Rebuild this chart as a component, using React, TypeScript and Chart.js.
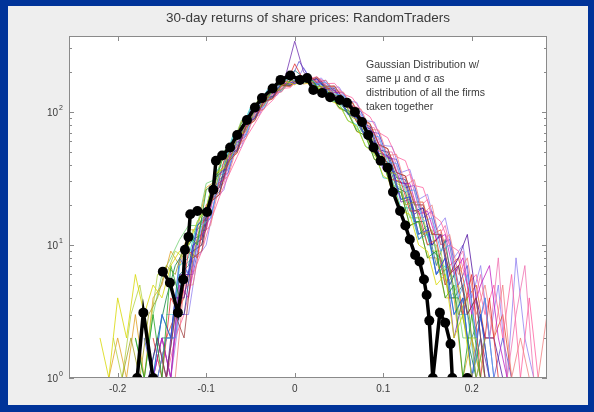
import React, { useEffect, useRef } from "react";
import { Chart, registerables } from "chart.js";
Chart.register(...registerables);

// bin centres (two interleaved bin grids)
const binsA = [
  -0.24, -0.23, -0.22, -0.21, -0.2, -0.19, -0.18, -0.17, -0.16, -0.15,
  -0.14, -0.13, -0.12, -0.11, -0.1, -0.09, -0.08, -0.07, -0.06, -0.05,
  -0.04, -0.03, -0.02, -0.01, 0, 0.01, 0.02, 0.03, 0.04, 0.05,
  0.06, 0.07, 0.08, 0.09, 0.1, 0.11, 0.12, 0.13, 0.14, 0.15,
  0.16, 0.17, 0.18, 0.19, 0.2, 0.21, 0.22, 0.23, 0.24, 0.25,
  0.26, 0.27, 0.28,
];
const binsB = [
  -0.235, -0.225, -0.215, -0.205, -0.195, -0.185, -0.175, -0.165, -0.155, -0.145,
  -0.135, -0.125, -0.115, -0.105, -0.095, -0.085, -0.075, -0.065, -0.055, -0.045,
  -0.035, -0.025, -0.015, -0.005, 0.005, 0.015, 0.025, 0.035, 0.045, 0.055,
  0.065, 0.075, 0.085, 0.095, 0.105, 0.115, 0.125, 0.135, 0.145, 0.155,
  0.165, 0.175, 0.185, 0.195, 0.205, 0.215, 0.225, 0.235, 0.245, 0.255,
  0.265, 0.275, 0.285,
];

// firm histograms on grid A
const a01 = [0,0,2,1,4,2,6,3,5,4, 7,9,10,15,19,34,38,58,68,97, 108,139,144,170,160,175,152,150,121,114, 86,78,55,49,33,30,18,17,10,9, 5,6,2,3,1,0,0,0,0,0, 0,0,0];
const a02 = [0,0,0,0,1,0,2,1,3,1, 7,4,12,10,26,29,48,55,83,92, 126,131,160,158,186,170,172,141,138,108, 99,72,66,44,41,26,25,14,15,8, 9,4,5,1,3,1,0,0,0,0, 0,0,0];
const a03 = [0,0,0,0,0,1,0,2,1,3, 2,8,6,14,17,32,37,60,70,101, 110,141,146,171,163,180,160,162,133,127, 96,90,64,59,39,37,22,23,12,13, 6,8,3,4,1,3,1,0,0,0, 0,0,0];
const a04 = [0,0,0,0,0,0,1,0,2,1, 4,3,9,8,20,23,43,49,79,88, 121,129,162,160,230,172,180,152,150,119, 113,84,77,53,49,31,30,18,18,10, 11,5,7,3,6,1,4,1,0,0, 0,0,0];
const a05 = [0,0,0,0,0,0,0,1,1,2, 1,5,4,11,13,28,31,56,63,95, 103,137,141,170,163,183,164,170,141,139, 108,103,74,70,47,45,29,29,17,18, 11,12,6,8,3,5,7,2,1,0, 0,0,0];
const a06 = [0,0,0,0,0,0,0,0,1,3, 2,7,8,15,19,35,41,66,75,108, 117,149,150,178,168,179,153,154,121,117, 86,80,55,51,32,31,19,19,11,12, 6,7,3,4,1,2,0,0,0,0, 0,0,0];
const a07 = [0,0,0,0,0,0,0,0,1,2, 1,6,6,13,16,32,36,61,69,101, 110,146,152,190,340,200,166,165,132,129, 96,91,63,59,37,37,21,22,11,13, 6,8,2,4,1,2,1,0,0,0, 0,0,0];
const a08 = [0,0,0,0,0,0,0,0,1,2, 1,4,5,10,13,26,29,52,58,91, 98,133,136,167,162,186,167,176,145,146, 112,109,78,76,50,50,31,34,19,22, 11,14,7,9,3,6,2,8,1,3, 7,1,0];
const a09 = [0,0,0,0,0,0,0,1,0,2, 2,6,7,14,16,33,39,63,70,104, 111,143,144,172,205,182,162,167,135,132, 98,94,65,61,39,38,22,23,12,14, 7,11,4,5,2,3,1,0,0,0, 0,0,0];
const a10 = [0,0,0,1,2,1,3,1,4,5, 9,7,13,13,27,30,49,56,85,93, 128,132,162,158,181,162,167,139,135,106, 100,71,67,44,42,25,25,14,15,8, 8,4,4,1,2,1,0,0,0,0, 0,0,0];
const a11 = [0,0,0,0,0,0,2,1,3,6, 8,11,14,14,29,31,51,58,87,95, 129,134,163,160,182,165,170,142,139,108, 102,74,69,47,44,28,27,16,16,10, 10,5,6,2,2,1,0,0,0,0, 0,0,0];
const a12 = [0,0,0,0,0,0,0,0,0,1, 1,3,3,8,10,22,26,48,55,88, 95,130,133,164,160,215,168,180,152,154, 121,118,86,84,56,55,35,37,22,24, 13,16,8,10,4,7,2,5,1,8, 2,1,0];

// firm histograms on grid B
const b01 = [0,0,0,0,0,0,0,0,2,1, 3,2,8,9,21,24,42,50,77,87, 119,126,158,157,182,170,183,156,157,125, 119,89,82,57,53,35,33,20,20,12, 12,6,7,3,4,1,1,1,0,0, 0,0,0];
const b02 = [0,0,1,0,1,2,1,3,4,7, 6,10,8,16,20,35,40,64,72,104, 112,145,146,174,165,177,155,156,126,121, 91,84,58,55,36,34,20,21,12,13, 6,7,3,4,1,2,0,0,0,0, 0,0,0];
const b03 = [0,0,0,0,0,0,0,0,1,2, 2,6,7,14,16,33,37,62,68,104, 109,143,145,174,167,185,163,168,136,134, 101,96,67,65,42,41,25,26,15,16, 9,10,4,6,2,4,1,1,0,0, 0,0,0];
const b04 = [0,0,0,0,0,0,1,1,2,1, 4,4,10,11,24,27,47,52,82,90, 126,130,164,162,187,168,177,147,146,113, 109,78,75,49,47,30,29,17,19,10, 12,6,8,12,4,2,2,1,0,0, 0,0,0];
const b05 = [0,0,0,0,0,0,0,0,0,1, 1,5,5,12,14,29,33,56,63,98, 104,138,141,170,165,185,166,173,143,141, 110,105,74,73,47,48,28,31,17,20, 10,12,6,8,3,5,2,5,1,2, 1,1,3];
const b06 = [0,0,0,0,0,0,0,0,1,1, 3,3,9,10,22,25,44,51,79,89, 121,128,159,158,183,169,178,151,150,117, 112,82,78,52,50,32,31,18,19,10, 12,5,7,3,4,1,1,0,0,0, 0,0,0];
const b07 = [0,1,0,2,1,3,5,2,6,6, 9,8,13,11,25,27,45,52,80,89, 122,128,160,157,180,166,170,143,141,111, 104,76,70,48,45,29,27,16,16,9, 9,4,5,2,2,1,0,0,0,0, 0,0,0];
const b08 = [0,0,0,0,0,0,0,0,0,1, 2,3,6,9,15,23,33,46,64,82, 106,122,150,152,178,176,184,163,164,136, 128,102,92,70,64,46,43,28,27,17, 15,10,9,5,6,3,5,2,6,1, 4,1,0];
const b09 = [0,0,0,0,0,0,0,1,2,4, 7,9,11,12,26,28,48,55,84,93, 126,131,162,159,176,166,165,140,134,108, 98,73,66,45,42,27,25,15,15,9, 8,4,4,2,1,1,0,0,0,0, 0,0,0];
const b10 = [0,0,0,0,0,0,0,0,1,2, 2,6,6,13,16,31,35,59,66,99, 105,139,142,172,240,188,168,173,141,139, 106,100,71,69,45,44,27,28,16,18, 10,11,5,7,2,4,1,2,1,0, 0,0,0];
const b11 = [0,0,0,0,0,0,0,1,1,2, 3,4,9,10,21,24,43,49,77,86, 118,125,157,155,180,168,180,154,155,123, 117,88,81,56,53,35,33,21,21,12, 13,7,8,4,5,2,2,3,1,0, 0,0,0];
const b12 = [0,0,0,0,0,0,0,1,0,3, 3,7,8,15,19,34,40,64,73,105, 114,146,148,176,168,183,158,160,128,124, 93,87,60,56,37,35,21,21,12,12, 6,7,3,3,1,2,0,0,0,0, 0,0,0];

const firmsA = [a01, a02, a03, a04, a05, a06, a07, a08, a09, a10, a11, a12];
const firmsB = [b01, b02, b03, b04, b05, b06, b07, b08, b09, b10, b11, b12];
const colorsA = ["#d8d800", "#20a020", "#3050e0", "#e03030", "#c020c0", "#20c0c0", "#7030b0", "#f070b0", "#208080", "#e0a020", "#70d070", "#9080f0"];
const colorsB = ["#a04040", "#a0a020", "#50a0f0", "#5010a0", "#f08080", "#203090", "#b0d040", "#ff60a0", "#108040", "#6050d0", "#e05020", "#60d0e0"];

// Gaussian reference curve (black, with markers)
const gaussX = [
  -0.178, -0.171, -0.16, -0.155,
  -0.149, -0.141, -0.132, -0.126, -0.124, -0.12, -0.118, -0.11, -0.099, -0.092,
  -0.089, -0.082, -0.073, -0.065, -0.054, -0.045, -0.037, -0.025, -0.016, -0.005,
  0.006, 0.014, 0.021, 0.031, 0.04, 0.051, 0.059, 0.068, 0.076, 0.083,
  0.089, 0.097, 0.105, 0.111, 0.119, 0.125, 0.13, 0.136, 0.141, 0.146,
  0.149, 0.152, 0.156, 0.164, 0.17, 0.176, 0.178, 0.187, 0.195,
];
const gaussY = [
  1, 3.1, 1, null,
  6.3, 5.2, 3.1, 5.5, 9.2, 11.5, 17, 18, 17.7, 26,
  43, 47, 54, 67, 87, 108, 127, 150, 174, 188,
  174, 180, 146, 139, 129, 123, 117, 100, 84, 67,
  54, 43, 38, 25, 18, 14, 11, 8.4, 7.5, 5.5,
  4.2, 2.7, 1, 3.1, 2.6, 1.8, 1, null, 1,
];

const xTicks = [-0.2, -0.1, 0, 0.1, 0.2];
const xTickLabels = ["-0.2", "-0.1", "0", "0.1", "0.2"];
const yTicks = [1, 10, 100];
const yTickExps = ["0", "1", "2"];
const titleText = "30-day returns of share prices: RandomTraders";
const noteLines = [
  "Gaussian Distribution w/",
  "same \u03bc and \u03c3 as",
  "distribution of all the firms",
  "taken together",
];

const FONT = '"Liberation Sans", Arial, sans-serif';

const framePlugin = {
  id: "frame",
  beforeDraw(chart: any) {
    const { ctx, chartArea: a, width, height } = chart;
    ctx.save();
    ctx.fillStyle = "#003399";
    ctx.fillRect(0, 0, width, height);
    ctx.fillStyle = "#eeeeee";
    ctx.fillRect(8, 6, 580, 399);
    ctx.fillStyle = "#ffffff";
    ctx.fillRect(a.left, a.top, a.right - a.left, a.bottom - a.top);
    ctx.restore();
  },
  afterDraw(chart: any) {
    const { ctx, chartArea: a, scales } = chart;
    const xs = scales.x;
    const ys = scales.y;
    ctx.save();
    ctx.strokeStyle = "#8a8a8a";
    ctx.lineWidth = 1;
    ctx.strokeRect(a.left + 0.5, a.top + 0.5, a.right - a.left - 1, a.bottom - a.top - 1);
    ctx.beginPath();
    xTicks.forEach((v) => {
      const px = Math.round(xs.getPixelForValue(v)) + 0.5;
      ctx.moveTo(px, a.bottom);
      ctx.lineTo(px, a.bottom - 5);
      ctx.moveTo(px, a.top);
      ctx.lineTo(px, a.top + 5);
    });
    for (let d = 0; d < 3; d++) {
      for (let m = 1; m < 10; m++) {
        const v = m * Math.pow(10, d);
        if (v > ys.max) break;
        const py = Math.round(ys.getPixelForValue(v)) + 0.5;
        const len = m === 1 ? 5 : 3;
        ctx.moveTo(a.left, py);
        ctx.lineTo(a.left + len, py);
        ctx.moveTo(a.right, py);
        ctx.lineTo(a.right - len, py);
      }
    }
    ctx.stroke();

    ctx.fillStyle = "#3a3a3a";
    ctx.font = "10px " + FONT;
    ctx.textAlign = "center";
    ctx.textBaseline = "middle";
    xTicks.forEach((v, i) => {
      ctx.fillText(xTickLabels[i], xs.getPixelForValue(v), a.bottom + 11);
    });
    yTicks.forEach((v, i) => {
      const py = ys.getPixelForValue(v);
      ctx.font = "10px " + FONT;
      ctx.textAlign = "right";
      ctx.fillText("10", a.left - 11, py + 1);
      ctx.font = "7px " + FONT;
      ctx.textAlign = "left";
      ctx.fillText(yTickExps[i], a.left - 10, py - 4);
    });

    ctx.font = "13.5px " + FONT;
    ctx.textAlign = "center";
    ctx.fillText(titleText, (a.left + a.right) / 2, 18);

    ctx.font = "10.5px " + FONT;
    ctx.textAlign = "left";
    noteLines.forEach((t, i) => {
      ctx.fillText(t, 366, 65 + i * 14);
    });
    ctx.restore();
  },
};

export default function App() {
  const ref = useRef<HTMLCanvasElement>(null);
  useEffect(() => {
    document.body.style.margin = "0";
    const mk = (grid: number[], arr: number[], color: string, order: number, label: string) => ({
      label,
      data: grid.map((x, i) => ({ x, y: arr[i] > 0 ? arr[i] : null })),
      borderColor: color + "c8",
      borderWidth: 1,
      pointRadius: 0,
      tension: 0,
      order,
    });
    const firmSets = [
      ...firmsA.map((arr, k) => mk(binsA, arr, colorsA[k], 2 * k + 1, "A" + k)),
      ...firmsB.map((arr, k) => mk(binsB, arr, colorsB[k], 2 * k + 2, "B" + k)),
    ];
    const gaussSet = {
      label: "Gaussian",
      data: gaussX.map((x, i) => ({ x, y: gaussY[i] })),
      borderColor: "#000000",
      backgroundColor: "#000000",
      borderWidth: 3.5,
      pointRadius: 5,
      pointBackgroundColor: "#000000",
      pointBorderWidth: 0,
      tension: 0,
      order: 0,
    };
    const chart = new Chart(ref.current as HTMLCanvasElement, {
      type: "line",
      data: { datasets: [gaussSet, ...firmSets] as any },
      options: {
        animation: false,
        responsive: false,
        maintainAspectRatio: false,
        spanGaps: false,
        layout: { padding: { left: 69, right: 47, top: 36, bottom: 34 } },
        plugins: { legend: { display: false }, title: { display: false }, tooltip: { enabled: false } },
        scales: {
          x: { type: "linear", min: -0.255, max: 0.285, display: false },
          y: { type: "logarithmic", min: 1, max: 372, display: false },
        },
      },
      plugins: [framePlugin],
    });
    return () => chart.destroy();
  }, []);
  return (
    <div style={{ width: 594, height: 412 }}>
      <canvas ref={ref} width={594} height={412} style={{ display: "block" }} />
    </div>
  );
}
